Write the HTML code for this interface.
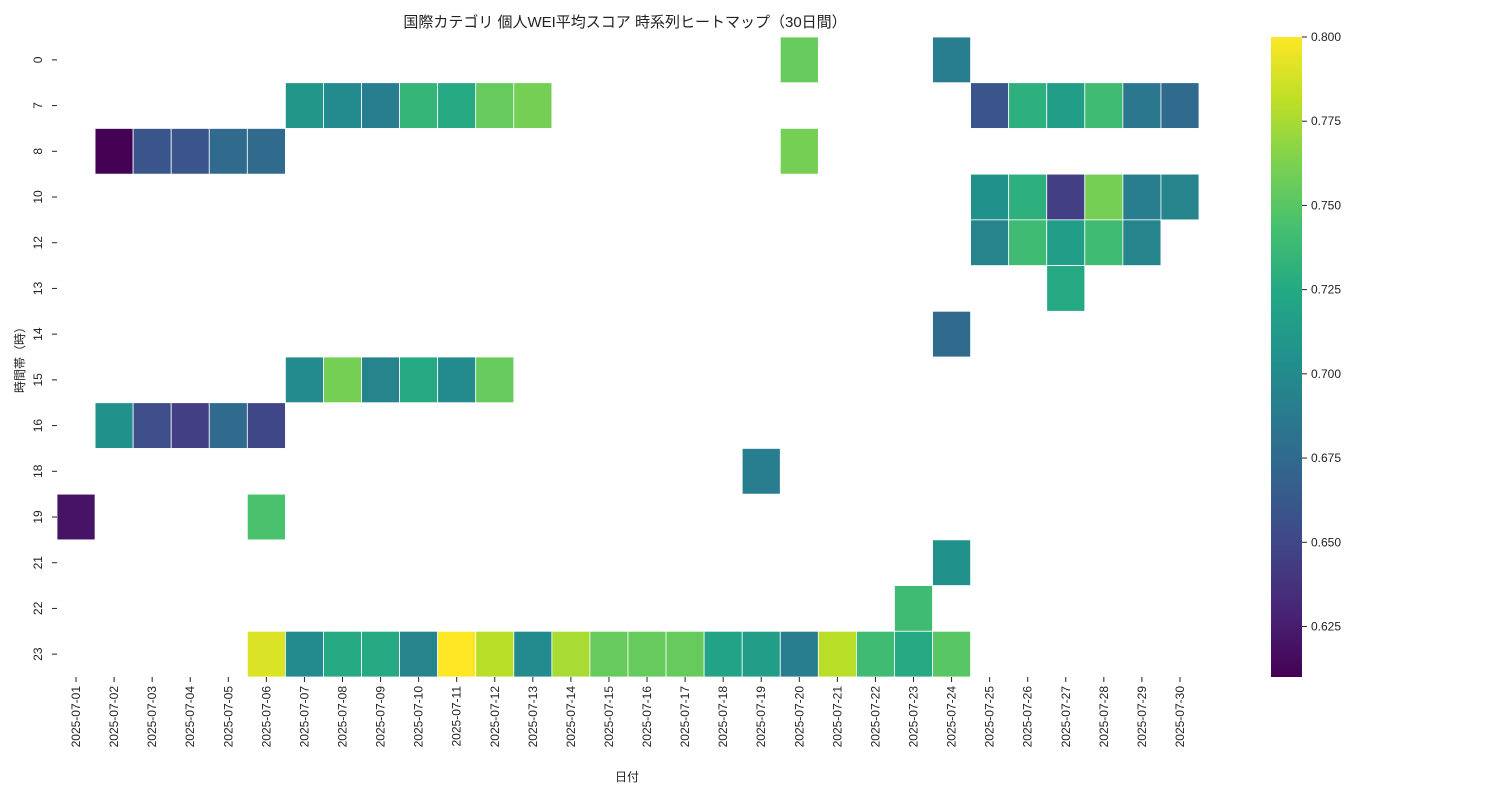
<!DOCTYPE html>
<html><head><meta charset="utf-8">
<style>
body{margin:0;background:#fff;font-family:"Liberation Sans","Noto Sans CJK JP",sans-serif;}
svg text{font-family:"Liberation Sans","Noto Sans CJK JP",sans-serif;fill:#222;}
</style></head>
<body>
<svg id="chart" width="1500" height="800" xmlns="http://www.w3.org/2000/svg">
<defs>
<linearGradient id="vir" x1="0" y1="1" x2="0" y2="0">
<stop offset="0" stop-color="#440154"/><stop offset="0.1" stop-color="#482475"/><stop offset="0.2" stop-color="#414487"/><stop offset="0.3" stop-color="#355f8d"/><stop offset="0.4" stop-color="#2a788e"/><stop offset="0.5" stop-color="#21918c"/><stop offset="0.6" stop-color="#22a884"/><stop offset="0.7" stop-color="#44bf70"/><stop offset="0.8" stop-color="#7ad151"/><stop offset="0.9" stop-color="#bddf26"/><stop offset="1" stop-color="#fde725"/>
</linearGradient>
</defs>
<text x="625" y="27" font-size="15" text-anchor="middle">国際カテゴリ 個人WEI平均スコア 時系列ヒートマップ（30日間）</text>
<g id="cells"></g><g id="xt"></g><g id="yt"></g>
<text x="627" y="781" font-size="12" text-anchor="middle">日付</text>
<text transform="translate(24,357) rotate(-90)" font-size="12" text-anchor="middle">時間帯（時）</text>
<rect x="1271" y="37" width="31" height="640" fill="url(#vir)"/>
<g id="cb"></g>
</svg>
<script>
const dates=[];for(let d=1;d<=30;d++)dates.push('2025-07-'+String(d).padStart(2,'0'));
const hours=[0,7,8,10,12,13,14,15,16,18,19,21,22,23];
const cbTicks=[0.625,0.650,0.675,0.700,0.725,0.750,0.775,0.800];
// [hour, day, value]
const cellsData=[
[0,20,0.755],[0,24,0.69],
[7,7,0.71],[7,8,0.70],[7,9,0.69],[7,10,0.735],[7,11,0.725],[7,12,0.755],[7,13,0.76],[7,25,0.66],[7,26,0.73],[7,27,0.715],[7,28,0.74],[7,29,0.685],[7,30,0.675],
[8,2,0.61],[8,3,0.66],[8,4,0.66],[8,5,0.675],[8,6,0.675],[8,20,0.76],
[10,25,0.705],[10,26,0.73],[10,27,0.645],[10,28,0.76],[10,29,0.69],[10,30,0.695],
[12,25,0.695],[12,26,0.74],[12,27,0.715],[12,28,0.74],[12,29,0.695],
[13,27,0.725],[14,24,0.675],
[15,7,0.70],[15,8,0.76],[15,9,0.695],[15,10,0.725],[15,11,0.70],[15,12,0.755],
[16,2,0.705],[16,3,0.655],[16,4,0.645],[16,5,0.675],[16,6,0.65],
[18,19,0.69],[19,1,0.62],[19,6,0.745],[21,24,0.705],[22,23,0.74],
[23,6,0.79],[23,7,0.70],[23,8,0.725],[23,9,0.725],[23,10,0.695],[23,11,0.80],[23,12,0.78],[23,13,0.70],[23,14,0.775],[23,15,0.755],[23,16,0.755],[23,17,0.755],[23,18,0.72],[23,19,0.715],[23,20,0.69],[23,21,0.78],[23,22,0.74],[23,23,0.725],[23,24,0.75]
];
const vmin=0.61,vmax=0.80;
const X0=57,X1=1199,Y0=37,Y1=677;
const cw=(X1-X0)/dates.length,ch=(Y1-Y0)/hours.length;
const xPos=i=>X0+i*cw, yPos=i=>Y0+i*ch;
const stops=['#440154','#482475','#414487','#355f8d','#2a788e','#21918c','#22a884','#44bf70','#7ad151','#bddf26','#fde725'];
function hex(h){return [1,3,5].map(i=>parseInt(h.substr(i,2),16));}
function color(v){let t=Math.max(0,Math.min(1,(v-vmin)/(vmax-vmin)))*10;let i=Math.min(9,Math.floor(t)),f=t-i;const a=hex(stops[i]),b=hex(stops[i+1]);return 'rgb('+a.map((c,k)=>Math.round(c+(b[k]-c)*f)).join(',')+')';}
const NS='http://www.w3.org/2000/svg';
function mk(tag,attrs,parent){const e=document.createElementNS(NS,tag);for(const k in attrs)e.setAttribute(k,attrs[k]);parent.appendChild(e);return e;}
const gc=document.getElementById('cells');
cellsData.forEach(c=>{const r=hours.indexOf(c[0]),col=c[1]-1;
const e=mk('rect',{x:xPos(col),y:yPos(r),width:cw,height:ch,fill:color(c[2]),stroke:'#fff','stroke-width':0.8},gc);

});
const gx=document.getElementById('xt');
dates.forEach((d,i)=>{const x=xPos(i)+cw/2;
mk('line',{x1:x,y1:Y1,x2:x,y2:Y1+5,stroke:'#222'},gx);
const t=mk('text',{transform:'translate('+(x+4)+','+(Y1+9)+') rotate(-90)','font-size':12,'text-anchor':'end'},gx);
t.textContent=d;

});
const gy=document.getElementById('yt');
hours.forEach((h,i)=>{const y=yPos(i)+ch/2;
mk('line',{x1:X0-5,y1:y,x2:X0,y2:y,stroke:'#222'},gy);
const t=mk('text',{transform:'translate('+(X0-15)+','+y+') rotate(-90)','font-size':12,'text-anchor':'middle'},gy);
t.textContent=h;

});
const gcb=document.getElementById('cb');
cbTicks.forEach(v=>{const y=Y1-(v-vmin)/(vmax-vmin)*(Y1-Y0);
mk('line',{x1:1302,y1:y,x2:1307,y2:y,stroke:'#222'},gcb);
const t=mk('text',{x:1311,y:y+4,'font-size':12},gcb);
t.textContent=v.toFixed(3);

});
</script>
</body></html>
